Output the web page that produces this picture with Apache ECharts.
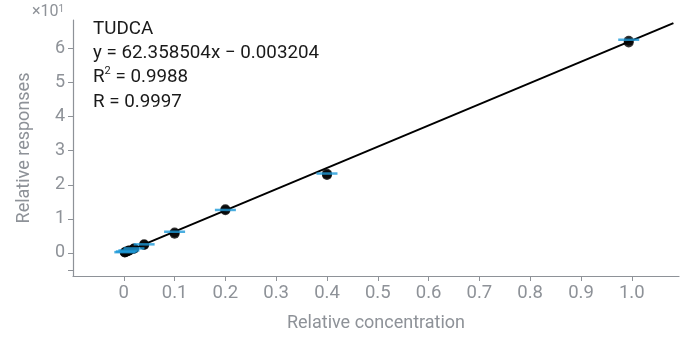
<!DOCTYPE html>
<html lang="en">
  <head>
    <meta charset="UTF-8" />
    <script src="https://cdn.jsdelivr.net/npm/echarts@6/dist/echarts.min.js"></script>
    <title>TUDCA calibration</title>
    <style>
      html, body { margin: 0; padding: 0; background: #fff; }
      #app { width: 681px; height: 337px; }
    </style>
  </head>
  <body>
    <div id="app"></div>
    <script>
      // calibration levels (relative concentration)
      const conc = [0.002, 0.005, 0.01, 0.02, 0.04, 0.1, 0.2, 0.4, 0.994];
      // two replicate injections (relative responses)
      const rep1 = [0.1, 0.3, 0.6, 1.2, 2.3, 5.6, 12.5, 22.9, 61.8];
      const rep2 = [0.2, 0.4, 0.7, 1.3, 2.5, 6.0, 12.8, 23.2, 62.3];
      // blue marks = mean response per level
      const meanResp = [0.2, 0.4, 0.7, 1.3, 2.5, 6.2, 12.6, 23.3, 62.6];
      // regression line end points
      const fitX = [-0.006, 1.082];
      const fitY = [-0.38, 67.47];

      const xTicks = [0, 0.1, 0.2, 0.3, 0.4, 0.5, 0.6, 0.7, 0.8, 0.9, 1.0];
      const yTicks = [0, 1, 2, 3, 4, 5, 6];
      const yScale = 10; // axis shows values x10^1

      const gray = "#8e9298";
      const font = "Roboto";

      const toPts = (xs, ys) => xs.map((x, i) => [x, ys[i] / yScale]);

      const chart = echarts.init(document.getElementById("app"));
      chart.setOption({
        animation: false,
        title: {
          left: 93,
          top: 17,
          padding: 0,
          text: "TUDCA\ny = 62.358504x \u2212 0.003204\nR{sup|2} = 0.9988\nR = 0.9997",
          textStyle: {
            fontFamily: font,
            fontSize: 18.8,
            fontWeight: "normal",
            color: "#1a1a1a",
            lineHeight: 24.3,
            rich: {
              sup: { fontSize: 11, verticalAlign: "top", lineHeight: 16, color: "#1a1a1a", fontFamily: font },
            },
          },
        },
        grid: { left: 73, right: 2, top: 20, bottom: 58 },
        xAxis: {
          type: "value",
          min: -0.1,
          max: 1.093,
          name: "Relative concentration",
          nameLocation: "middle",
          nameGap: 38,
          nameTextStyle: { color: gray, fontSize: 18, fontFamily: font },
          axisLine: { onZero: false, lineStyle: { color: gray, width: 1.2 } },
          axisTick: { show: true, length: 5, lineStyle: { color: gray }, customValues: xTicks },
          axisLabel: {
            color: gray,
            fontSize: 18.5,
            fontFamily: font,
            margin: 8,
            customValues: xTicks,
            formatter: (v) => (v === 0 ? "0" : v.toFixed(1)),
          },
          splitLine: { show: false },
        },
        yAxis: {
          type: "value",
          min: -0.68,
          max: 6.84,
          name: "Relative responses",
          nameLocation: "middle",
          nameGap: 40,
          nameTextStyle: { color: gray, fontSize: 18, fontFamily: font },
          axisLine: { show: true, onZero: false, lineStyle: { color: gray, width: 1.2 } },
          axisTick: { show: true, length: 5, lineStyle: { color: gray }, customValues: [-0.5].concat(yTicks) },
          axisLabel: {
            color: gray,
            fontSize: 18,
            fontFamily: font,
            margin: 8,
            customValues: yTicks,
            formatter: (v) => String(v),
          },
          splitLine: { show: false },
        },
        graphic: [
          {
            type: "text",
            left: 32,
            top: 4,
            style: {
              text: "\u00d710{s|1}",
              fill: gray,
              font: "16px Roboto",
              rich: { s: { fontSize: 10, verticalAlign: "top", fill: gray, fontFamily: font } },
            },
          },
        ],
        series: [
          {
            type: "line",
            data: toPts(fitX, fitY),
            showSymbol: false,
            lineStyle: { color: "#000", width: 2 },
            z: 2,
          },
          {
            type: "scatter",
            data: toPts(conc, rep1),
            symbolSize: 10,
            itemStyle: { color: "#000" },
            z: 3,
          },
          {
            type: "scatter",
            data: toPts(conc, rep2),
            symbolSize: 10,
            itemStyle: { color: "#000" },
            z: 3,
          },
          {
            type: "scatter",
            data: toPts(conc, meanResp),
            symbol: "rect",
            symbolSize: [21, 2.5],
            itemStyle: { color: "#1e9ad8" },
            z: 4,
          },
        ],
      });
    </script>
  </body>
</html>
